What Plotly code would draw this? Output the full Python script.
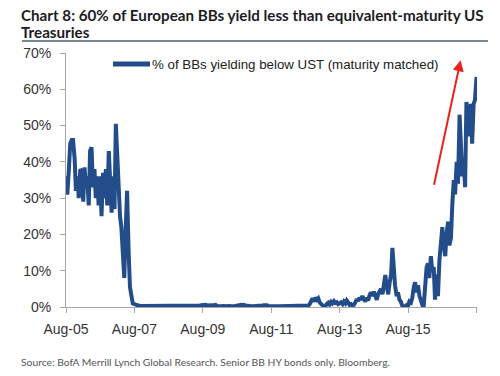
import pandas as pd
import plotly.graph_objects as go

# ---------------- data (semi-monthly, Aug-05 .. Aug-17), % of BBs yielding below UST
y2005 = [36, 31, 38, 45, 46, 46, 41, 32, 36, 30, 38, 37.5,
         29, 38.5, 33, 36, 28, 43, 44, 33, 38, 30, 36, 28]
y2006 = [36, 25, 37, 30, 38, 28, 43, 32, 26, 36, 27, 50.5,
         40, 30, 25, 22, 16, 8, 22, 32, 15, 5.5, 3, 1]
y2007 = [0.8, 0.6, 0.5, 0.4, 0.3, 0.3, 0.2, 0.3, 0.2, 0.2, 0.3, 0.2,
         0.2, 0.3, 0.2, 0.2, 0.2, 0.3, 0.2, 0.2, 0.2, 0.3, 0.2, 0.2]
y2008 = [0.2, 0.2, 0.3, 0.2, 0.2, 0.2, 0.2, 0.3, 0.2, 0.2, 0.2, 0.2,
         0.2, 0.3, 0.2, 0.2, 0.2, 0.2, 0.3, 0.2, 0.3, 0.2, 0.4, 0.5]
y2009 = [0.6, 0.5, 0.6, 0.4, 0.5, 0.6, 0.5, 0.4, 0.5, 0.6, 0.3, 0.2,
         0.2, 0.2, 0.3, 0.2, 0.2, 0.2, 0.3, 0.2, 0.2, 0.2, 0.2, 0.3]
y2010 = [0.2, 0.3, 0.5, 0.6, 0.5, 0.6, 0.4, 0.3, 0.2, 0.2, 0.2, 0.2,
         0.2, 0.3, 0.2, 0.2, 0.3, 0.2, 0.4, 0.5, 0.6, 0.5, 0.3, 0.2]
y2011 = [0.2, 0.2, 0.2, 0.3, 0.2, 0.2, 0.2, 0.2, 0.3, 0.2, 0.2, 0.2,
         0.2, 0.2, 0.3, 0.2, 0.2, 0.2, 0.2, 0.3, 0.2, 0.2, 0.3, 0.3]
y2012 = [0.3, 0.3, 0.4, 0.8, 1.8, 2.4, 1.5, 2.6, 2.0, 2.4, 1.2, 0.6,
         0.4, 0.3, 0.2, 0.8, 1.2, 0.7, 1.4, 1.0, 1.6, 1.1, 1.3, 0.8]
y2013 = [1.0, 1.3, 0.8, 1.5, 1.0, 1.8, 1.2, 0.6, 0.8, 0.4, 0.6, 1.5,
         2.2, 1.6, 2.6, 2.0, 3.0, 2.2, 1.5, 2.5, 1.8, 3.2, 4.0, 3.0]
y2014 = [4.2, 3.2, 2.0, 3.5, 4.5, 5.0, 3.5, 7.0, 8.8, 6.0, 3.5, 6.5,
         9.0, 16.3, 8.5, 6.0, 3.0, 4.0, 2.0, 1.5, 0.3, 0.1, 0.2, 0.5]
y2015 = [0.3, 1.5, 1.2, 2.5, 5.5, 6.8, 4.0, 6.0, 3.0, 1.5, 0.5, 0.3,
         6.0, 11.0, 12.0, 8.0, 14.0, 10.0, 11.0, 2.0, 9.0, 3.0, 13.0, 17.0]
y2016 = [22, 17, 14, 20, 23.5, 17, 19, 28, 35, 31, 40, 34,
         53, 45, 36, 41, 33, 56.5, 52, 47, 56, 45, 56, 57]
y2017 = [63.4]

values = (y2005 + y2006 + y2007 + y2008 + y2009 + y2010 + y2011 +
          y2012 + y2013 + y2014 + y2015 + y2016 + y2017)
dates = pd.date_range("2005-08-01", periods=len(values), freq="SMS")

series_name = "% of BBs yielding below UST (maturity matched)"
title_1 = "Chart 8: 60% of European BBs yield less than equivalent-maturity US"
title_2 = "Treasuries"
source = "Source: BofA Merrill Lynch Global Research. Senior BB HY bonds only. Bloomberg."

x_tick_dates = ["2005-08-01", "2007-08-01", "2009-08-01", "2011-08-01",
                "2013-08-01", "2015-08-01", "2017-08-01"]
x_tick_text = ["Aug-05", "Aug-07", "Aug-09", "Aug-11", "Aug-13", "Aug-15", ""]
y_ticks = [0, 10, 20, 30, 40, 50, 60, 70]
y_tick_text = ["0%", "10%", "20%", "30%", "40%", "50%", "60%", "70%"]

# ---------------- layout geometry (pixels)
W, H = 500, 376
L, R, T, B = 66, 477, 53, 307


def px(xp):
    return (xp - L) / (R - L)


def py(yp):
    return (B - yp) / (B - T)


LINE = "#234d8a"
AXIS = "#a6a6a6"
TICKFONT = dict(family="Liberation Sans, Arial", size=14, color="#333333")

fig = go.Figure()
fig.add_trace(go.Scatter(x=dates, y=values, mode="lines", name=series_name,
                         line=dict(color=LINE, width=4), showlegend=False))

fig.update_layout(
    width=W, height=H,
    margin=dict(l=L, r=W - R, t=T, b=H - B),
    paper_bgcolor="white", plot_bgcolor="white",
    xaxis=dict(range=["2005-08-01", "2017-08-06"], tickvals=x_tick_dates,
               ticktext=x_tick_text, showgrid=False, showline=True,
               linecolor=AXIS, linewidth=1, ticks="outside", ticklen=5,
               tickcolor=AXIS, tickfont=TICKFONT, ticklabelstandoff=4,
               zeroline=False),
    yaxis=dict(range=[0, 70], tickvals=y_ticks, ticktext=y_tick_text,
               showgrid=False, showline=True, linecolor=AXIS, linewidth=1,
               ticks="outside", ticklen=5, tickcolor=AXIS, zeroline=False,
               tickfont=TICKFONT, ticklabelstandoff=6),
)

TITLE_FONT = dict(family="Lato, Open Sans", size=15.2, color="#1c1c24")
fig.add_annotation(text="<b>" + title_1 + "</b>", xref="paper", yref="paper",
                   x=px(19), y=py(15), xanchor="left", yanchor="middle",
                   showarrow=False, font=TITLE_FONT)
fig.add_annotation(text="<b>" + title_2 + "</b>", xref="paper", yref="paper",
                   x=px(19), y=py(32), xanchor="left", yanchor="middle",
                   showarrow=False, font=TITLE_FONT)
fig.add_shape(type="line", xref="paper", yref="paper", x0=px(22), x1=px(488),
              y0=py(41), y1=py(41), line=dict(color="#7a8896", width=2))

# legend
fig.add_shape(type="line", xref="paper", yref="paper", x0=px(113), x1=px(150),
              y0=py(64), y1=py(64), line=dict(color=LINE, width=5))
fig.add_annotation(text=series_name, xref="paper", yref="paper",
                   x=px(150), y=py(64), xanchor="left", yanchor="middle",
                   showarrow=False,
                   font=dict(family="Liberation Sans, Arial", size=13.3, color="#222222"))

# red arrow
fig.add_annotation(x="2017-02-12", y=68, ax="2016-05-01", ay=33.3,
                   xref="x", yref="y", axref="x", ayref="y", text="",
                   showarrow=True, arrowhead=2, arrowsize=1.1, arrowwidth=2,
                   arrowcolor="#e8231e")

# source
fig.add_annotation(text=source, xref="paper", yref="paper", x=px(19), y=py(362),
                   xanchor="left", yanchor="middle", showarrow=False,
                   font=dict(family="Lato, Open Sans", size=10.3, color="#555555"))

fig.write_html("out.html", config={"displayModeBar": False},
               post_script="document.body.style.margin='0';")
